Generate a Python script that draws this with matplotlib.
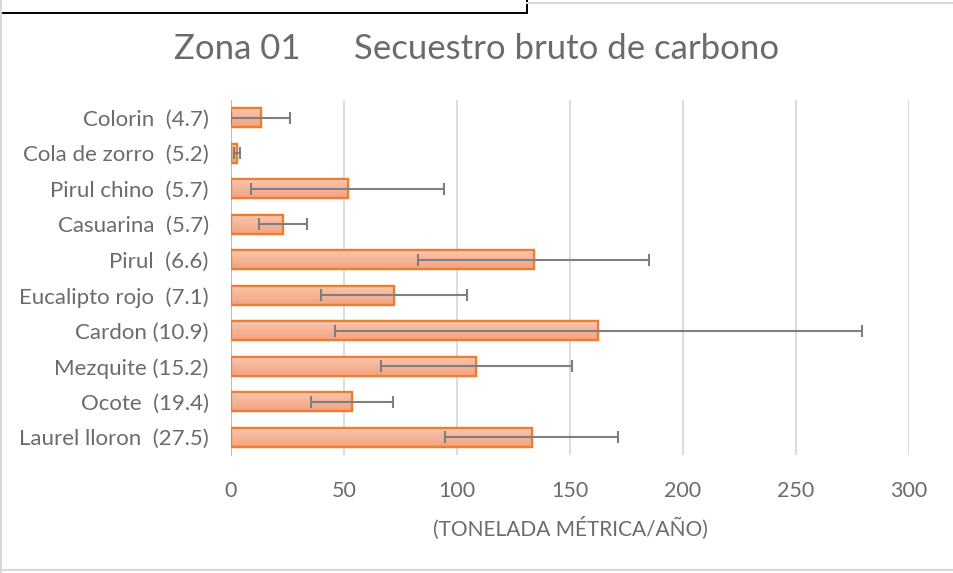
import numpy as np
import matplotlib
matplotlib.use("Agg")
import matplotlib.pyplot as plt
from matplotlib.patches import Rectangle

# data (top to bottom)
species = ["Colorin  (4.7)", "Cola de zorro  (5.2)", "Pirul chino  (5.7)", "Casuarina  (5.7)",
           "Pirul  (6.6)", "Eucalipto rojo  (7.1)", "Cardon (10.9)", "Mezquite (15.2)",
           "Ocote  (19.4)", "Laurel lloron  (27.5)"]
secuestro = [13.1, 2.8, 51.6, 23.2, 133.9, 72.1, 162.6, 108.5, 53.6, 133.0]
error = [13.0, 1.4, 42.6, 10.6, 51.2, 32.3, 116.6, 42.3, 18.1, 38.2]
xticks = [0, 50, 100, 150, 200, 250, 300]

plt.rcParams["font.family"] = ["Lato", "DejaVu Sans"]
gray_txt = "#6B6B6B"

fig = plt.figure(figsize=(9.54, 5.73), dpi=100)
ax = fig.add_axes([0.2421, 0.2059, 0.7107, 0.6196])

ypos = np.arange(len(species))
bars = ax.barh(ypos, secuestro, height=0.53, color="#F5B091", edgecolor="#ED7D31",
               linewidth=1.6, zorder=3)

# soft vertical gradient inside each bar
grad = np.linspace(0, 1, 64).reshape(-1, 1)
cmap = matplotlib.colors.LinearSegmentedColormap.from_list("peach", ["#F9C6AF", "#F3A27F"])
for b in bars:
    x0, y0, w, h = b.get_x(), b.get_y(), b.get_width(), b.get_height()
    im = ax.imshow(grad, extent=(x0, x0 + w, y0 + h, y0), cmap=cmap, aspect="auto",
                   origin="upper", zorder=3.5)
    im.set_clip_path(b)
    ax.add_patch(Rectangle((x0, y0), w, h, fill=False, edgecolor="#ED7D31", lw=1.6, zorder=4))

ax.errorbar(secuestro, ypos, xerr=error, fmt="none", ecolor="#7F7F7F", elinewidth=1.5,
            capsize=4.3, capthick=1.5, zorder=5)

ax.set_xlim(0, 300)
ax.set_ylim(len(species) - 0.5, -0.5)
ax.set_xticks(xticks)
ax.set_yticks(ypos)
ax.set_yticklabels(species)
ax.tick_params(axis="both", length=0, colors=gray_txt)
ax.tick_params(axis="x", pad=19, labelsize=15.5)
ax.tick_params(axis="y", pad=16, labelsize=16)
ax.grid(axis="x", color="#D9D9D9", lw=1.3, zorder=0)
for s in ["top", "right", "bottom"]:
    ax.spines[s].set_visible(False)
ax.spines["left"].set_color("#BFBFBF")
ax.spines["left"].set_zorder(2)

ax.set_xlabel("(TONELADA MÉTRICA/AÑO)", color=gray_txt, fontsize=15, labelpad=11)
fig.text(0.5, 0.915, "Zona 01      Secuestro bruto de carbono", ha="center", va="center",
         color=gray_txt, fontsize=25)

# chart frame and the black box overlapping its top-left corner
fig.add_artist(plt.Line2D([0.552, 1.0], [0.995, 0.995], color="#D9D9D9", lw=1.5))
fig.add_artist(plt.Line2D([0.0, 1.0], [0.005, 0.005], color="#D9D9D9", lw=1.5))
fig.add_artist(plt.Line2D([0.001, 0.001], [0.0, 1.0], color="#D9D9D9", lw=1.5))
fig.add_artist(Rectangle((-0.01, 0.978), 0.562, 0.04, transform=fig.transFigure,
                         fill=False, edgecolor="black", lw=1.4))

fig.savefig("out.png", dpi=100)
